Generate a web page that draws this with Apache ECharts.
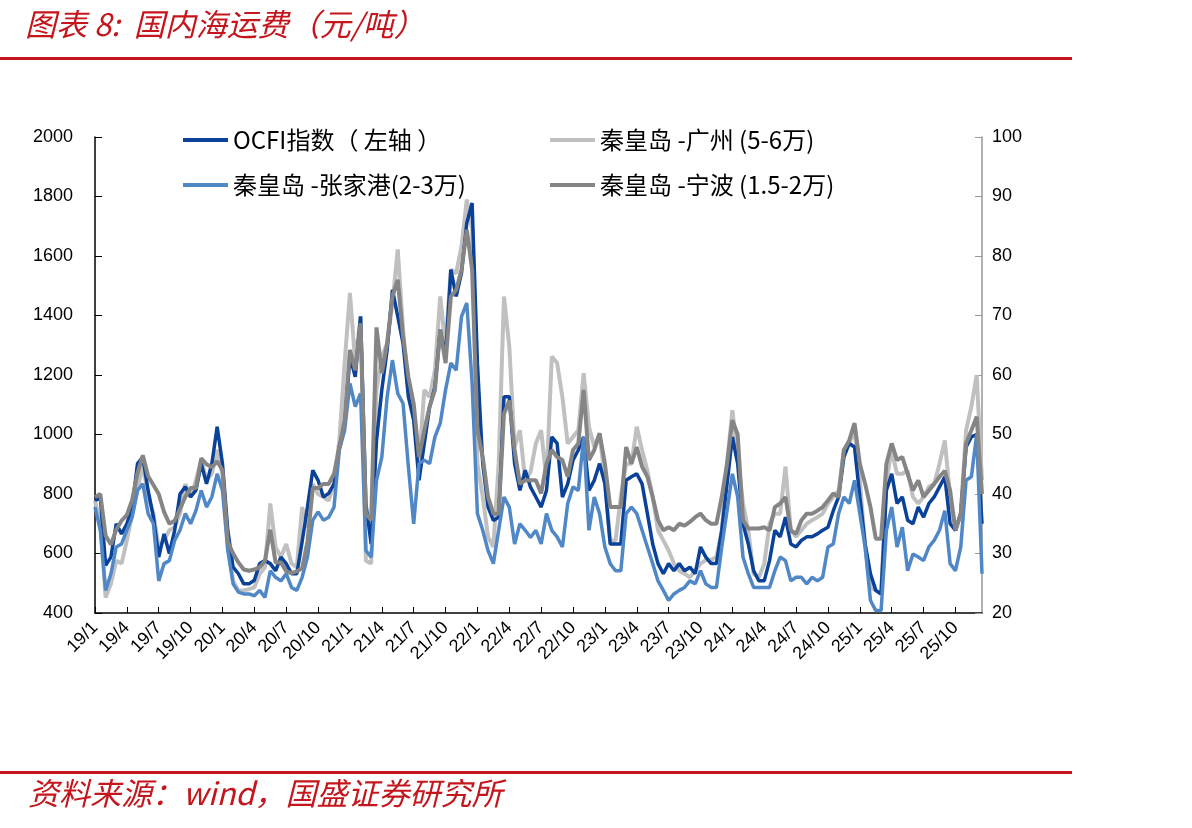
<!DOCTYPE html>
<html>
<head>
<meta charset="utf-8">
<title>国内海运费</title>
<script src="https://cdn.jsdelivr.net/npm/echarts@6/dist/echarts.min.js"></script>
<style>
  html, body { margin: 0; padding: 0; background: #fff; }
  #chart { width: 1192px; height: 828px; }
</style>
</head>
<body>
<div id="chart"></div>
<script>
// half-monthly readings, 2019/1 .. 2025/12
const years = [2019, 2020, 2021, 2022, 2023, 2024, 2025];

// OCFI index (left axis)
const ocfi = [
  778, 790, 560, 588, 700, 666, 700, 756, 902, 924, 812, 722, 588, 666, 600, 678, 800, 824, 790, 812, 902, 834, 902, 1026,
  902, 678, 554, 532, 498, 498, 510, 566, 576, 566, 542, 588, 566, 532, 532, 640, 756, 880, 846, 790, 802, 834, 958, 1037,
  1262, 1194, 1397, 767, 632, 980, 1150, 1284, 1486, 1397, 1306, 1127, 1048, 846, 970, 1093, 1160, 1352, 1262, 1554, 1464, 1543, 1711, 1778,
  1239, 902, 756, 711, 722, 1127, 1127, 902, 812, 880, 823, 790, 756, 812, 992, 970, 790, 834, 914, 948, 992, 812, 846, 902,
  834, 632, 632, 632, 846, 858, 868, 834, 734, 632, 566, 532, 566, 542, 566, 542, 554, 532, 622, 588, 566, 566, 678, 834,
  992, 902, 700, 632, 542, 508, 508, 576, 678, 656, 722, 632, 622, 644, 656, 656, 666, 678, 688, 744, 790, 924, 970, 958,
  790, 632, 532, 476, 464, 812, 868, 768, 790, 712, 700, 756, 722, 768, 790, 824, 858, 700, 678, 734, 958, 992, 1000, 700
];

// 秦皇岛-广州 (5-6万), right axis
const qhdGz = [
  38.9, 35, 22.6, 24.9, 28.8, 28.3, 32.2, 36.7, 40.6, 45.1, 39.5, 36.7, 31.1, 32.2, 33.9, 34.4, 36.7, 41.7, 39.5, 42.3, 45.7, 42.3, 43.4, 47.4,
  43.4, 31.6, 25.4, 23.8, 23.8, 24, 24.3, 26.6, 27.7, 38.4, 31.1, 29.4, 31.6, 28.3, 27.7, 37.8, 34.4, 41.7, 40, 39.5, 38.9, 41.7, 49, 62,
  73.8, 62, 69.8, 28.8, 28.3, 57.5, 63.1, 65.3, 72.1, 81.1, 67.6, 57.5, 53.5, 45.1, 57.5, 56.3, 60.8, 73.2, 64.8, 77.7, 77.1, 81.6, 89.5, 84.4,
  45.1, 39.5, 32.8, 31.1, 45.1, 73.2, 64.8, 47.9, 50.7, 42.3, 43.7, 48.5, 50.7, 42.3, 63.1, 62, 56.3, 48.5, 49.6, 50.7, 60.3, 51.3, 47.9, 50.2,
  42.3, 32.2, 32.2, 39.5, 45.1, 45.1, 51.3, 47.4, 43.9, 39.5, 33.9, 32.2, 30.5, 28.3, 27.1, 26.6, 26, 27.1, 28.3, 28.9, 28.9, 29.4, 33.9, 45.1,
  54.1, 46.2, 38.4, 33.9, 26.6, 26, 28.3, 35, 36.7, 36.7, 44.6, 33.9, 32.8, 33.9, 35, 35.6, 36.1, 36.7, 38.4, 39.5, 40.6, 47.4, 48.5, 50.7,
  42.3, 31.1, 24.3, 23.8, 23.2, 42.3, 47.4, 43.4, 43.4, 43.9, 39.5, 38.4, 39.5, 41.2, 41.7, 45.1, 49, 39.5, 33.9, 36.7, 50.7, 54.7, 60, 42.3
];

// 秦皇岛-张家港 (2-3万), right axis
const qhdZjg = [
  37.8, 33.9, 23.8, 26.6, 31.1, 31.6, 33.9, 36.1, 40.6, 41.7, 36.7, 35, 25.4, 28.3, 28.8, 32.2, 33.9, 36.7, 35, 37.2, 40.6, 37.8, 39.5, 43.4,
  40.6, 30.5, 24.9, 23.5, 23.2, 23.2, 22.9, 23.8, 22.6, 27.1, 26, 25.4, 26.6, 24.3, 23.8, 26, 29.4, 35.6, 37, 35.6, 36.1, 37.8, 47.4, 50.7,
  58.6, 54.7, 56.9, 30.5, 29.4, 42.3, 46.2, 56.3, 62.5, 56.9, 55.2, 44.6, 35, 45.1, 45.7, 45.1, 49.6, 51.9, 57.5, 62, 60.8, 69.8, 72.1, 58.6,
  36.7, 33.9, 30.5, 28.3, 33.9, 39.5, 37.8, 31.6, 35, 33.9, 32.7, 33.9, 31.6, 36.7, 33.9, 32.8, 31.1, 38.4, 41.2, 40.6, 49.6, 33.9, 39.5, 36.7,
  31.1, 28.3, 27.1, 27.1, 36.7, 37.8, 36.7, 33.9, 31.1, 28.3, 25.4, 23.8, 22.1, 23.2, 23.8, 24.3, 25.4, 24.9, 27.1, 24.9, 24.3, 24.3, 31.1, 37.2,
  43.4, 39.5, 29.4, 26.6, 24.3, 24.3, 24.3, 24.3, 27.1, 29.4, 28.8, 25.4, 26, 26, 24.9, 26, 25.4, 26, 31.1, 31.6, 36.7, 39.5, 38.4, 42.3,
  36.7, 31.1, 22.1, 20.4, 20.4, 33.9, 37.8, 31.1, 34.4, 27.1, 29.9, 29.4, 28.8, 31.1, 32.2, 33.9, 37.2, 28.3, 27.1, 31.1, 42.3, 42.9, 50, 26.6
];

// 秦皇岛-宁波 (1.5-2万), right axis
const qhdNb = [
  39.5, 40, 33, 31.5, 34, 35.5, 36.5, 39, 43.5, 46.5, 43, 41.5, 40, 37, 35, 35.5, 37.5, 39.5, 41, 41, 46, 45, 44.5, 45.5,
  44, 32, 30, 28.5, 27.3, 27.1, 27.3, 27.7, 28.8, 34, 28.5, 28.5, 27, 26.7, 27, 27.5, 32, 41, 41, 41.7, 41.7, 43.4, 47.9, 52.4,
  64.2, 60.8, 68.7, 36.7, 35.6, 68, 60.3, 65.3, 73.2, 76, 66.5, 59.7, 55.2, 46.2, 50.7, 54.7, 57.5, 67.6, 62, 73.2, 74.3, 77.7, 84.4, 77.7,
  50.7, 46.2, 39.5, 36.7, 36.7, 53.5, 55.7, 47.4, 41.7, 42.3, 42.3, 42.3, 40.1, 45.1, 47.4, 46.2, 45.7, 42.9, 47.4, 48.5, 57.5, 45.7, 47.4, 50.2,
  45.1, 37.8, 37.8, 37.8, 47.9, 45.1, 47.9, 44.6, 42.9, 39.5, 35.6, 33.9, 34.4, 33.9, 35, 34.7, 35.3, 36.1, 36.7, 35.6, 35, 35, 39.5, 45.1,
  52.4, 50, 35.6, 34.2, 34.2, 34.2, 34.4, 33.9, 37.8, 38.4, 39.5, 33.9, 33.3, 35.6, 36.7, 36.7, 37.2, 37.8, 38.9, 40.1, 39.5, 47.4, 49, 51.9,
  45.1, 41.7, 37.8, 32.5, 32.5, 45.1, 48.5, 45.7, 46.2, 43.4, 40.6, 42.3, 39.5, 40.6, 41.7, 42.9, 43.9, 40.6, 33.9, 36.7, 48.5, 50.7, 53, 40
];

const categories = [];
years.forEach(y => {
  for (let m = 1; m <= 12; m++) {
    categories.push((y % 100) + '/' + m);
    categories.push((y % 100) + '/' + m + 'b');
  }
});

const RED = '#C4161C';
const FONT = '"Liberation Sans", Arial, sans-serif';
const CJK = '"Noto Sans CJK SC", sans-serif';
const quarterly = (index) => index % 6 === 0;

const chart = echarts.init(document.getElementById('chart'));

const legendBase = {
  icon: 'rect',
  itemWidth: 45,
  itemHeight: 4,
  itemGap: 0,
  textStyle: { fontFamily: CJK, fontSize: 24, color: '#000' }
};

chart.setOption({
  animation: false,
  backgroundColor: '#fff',
  title: {
    text: '图表 8:  国内海运费（元/吨）',
    left: 20,
    top: 4,
    textStyle: { fontFamily: CJK, fontSize: 31, fontStyle: 'italic', fontWeight: 'normal', color: RED }
  },
  graphic: [
    { type: 'rect', shape: { x: 0, y: 57, width: 1072, height: 3 }, style: { fill: RED } },
    { type: 'rect', shape: { x: 0, y: 771, width: 1072, height: 3 }, style: { fill: RED } },
    {
      type: 'text', left: 28, top: 778,
      style: { text: '资料来源：wind，国盛证券研究所', fontFamily: CJK, fontSize: 31, fontStyle: 'italic', fill: RED }
    }
  ],
  legend: [
    Object.assign({ left: 178, top: 123, data: ['OCFI指数（ 左轴 ）'] }, legendBase),
    Object.assign({ left: 545, top: 123, data: ['秦皇岛 -广州 (5-6万)'] }, legendBase),
    Object.assign({ left: 178, top: 168, data: ['秦皇岛 -张家港(2-3万)'] }, legendBase),
    Object.assign({ left: 545, top: 168, data: ['秦皇岛 -宁波 (1.5-2万)'] }, legendBase)
  ],
  grid: { left: 95, right: 210, top: 137, bottom: 215 },
  xAxis: {
    type: 'category',
    data: categories,
    boundaryGap: false,
    axisLine: { lineStyle: { color: '#000', width: 1.5 } },
    axisTick: { inside: true, length: 6, interval: quarterly, lineStyle: { color: '#000' } },
    axisLabel: {
      interval: quarterly,
      rotate: 45,
      fontFamily: FONT,
      fontSize: 18,
      color: '#000',
      margin: 12
    },
    splitLine: { show: false }
  },
  yAxis: [
    {
      type: 'value',
      min: 400,
      max: 2000,
      interval: 200,
      axisLine: { show: true, lineStyle: { color: '#000', width: 1.5 } },
      axisTick: { show: true, inside: true, length: 7, lineStyle: { color: '#000' } },
      axisLabel: { fontFamily: FONT, fontSize: 18, color: '#000', margin: 22, formatter: (v) => String(v) },
      splitLine: { show: false }
    },
    {
      type: 'value',
      min: 20,
      max: 100,
      interval: 10,
      position: 'right',
      axisLine: { show: true, lineStyle: { color: '#999', width: 1.5 } },
      axisTick: { show: true, inside: true, length: 7, lineStyle: { color: '#999' } },
      axisLabel: { fontFamily: FONT, fontSize: 18, color: '#000', margin: 10 },
      splitLine: { show: false }
    }
  ],
  series: [
    {
      name: '秦皇岛 -广州 (5-6万)', type: 'line', yAxisIndex: 1, data: qhdGz, z: 2,
      symbol: 'none', lineStyle: { color: '#C0C0C0', width: 4 }, itemStyle: { color: '#C0C0C0' }
    },
    {
      name: 'OCFI指数（ 左轴 ）', type: 'line', yAxisIndex: 0, data: ocfi, z: 3,
      symbol: 'none', lineStyle: { color: '#0A4199', width: 3.5 }, itemStyle: { color: '#0A4199' }
    },
    {
      name: '秦皇岛 -张家港(2-3万)', type: 'line', yAxisIndex: 1, data: qhdZjg, z: 4,
      symbol: 'none', lineStyle: { color: '#5087C7', width: 3.5 }, itemStyle: { color: '#5087C7' }
    },
    {
      name: '秦皇岛 -宁波 (1.5-2万)', type: 'line', yAxisIndex: 1, data: qhdNb, z: 5,
      symbol: 'none', lineStyle: { color: '#858585', width: 4 }, itemStyle: { color: '#858585' }
    }
  ]
});

window.addEventListener('resize', () => chart.resize());
</script>
</body>
</html>
